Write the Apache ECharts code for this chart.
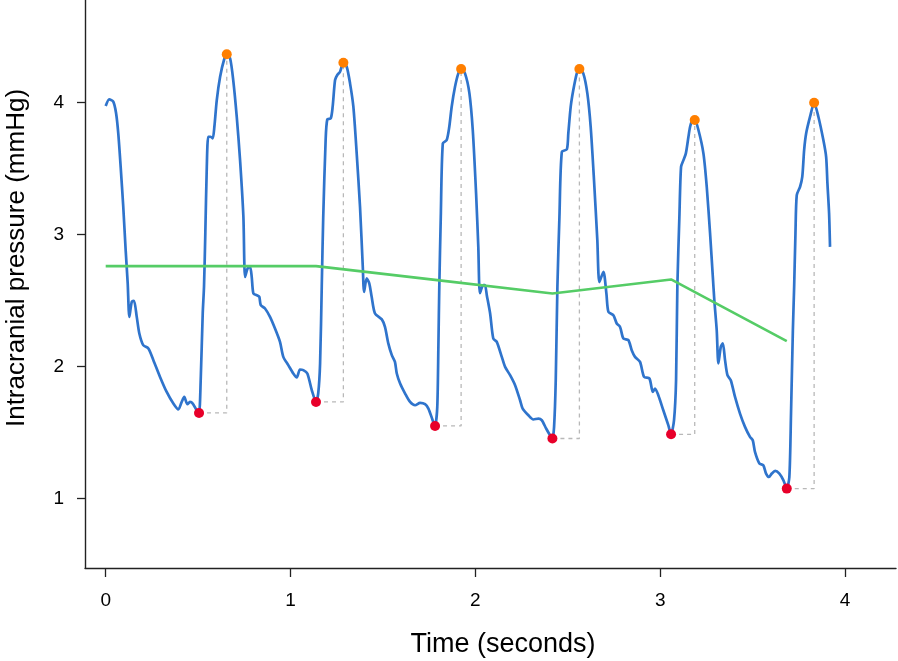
<!DOCTYPE html>
<html>
<head>
<meta charset="utf-8">
<script src="https://cdn.jsdelivr.net/npm/echarts@6/dist/echarts.min.js"></script>
<style>
html,body{margin:0;padding:0;background:#fff;}
#chart{width:898px;height:661px;}
</style>
</head>
<body>
<div id="chart"></div>
<script>
// Blue ICP waveform: time (s) and pressure (mmHg)
var waveTime = [0.000,0.019,0.041,0.056,0.068,0.081,0.095,0.108,0.119,0.128,0.141,0.153,0.168,0.182,0.203,0.231,0.258,0.294,0.330,0.366,0.393,0.411,0.425,0.442,0.456,0.471,0.492,0.505,
0.514,0.525,0.532,0.539,0.547,0.555,0.568,0.579,0.588,0.601,0.619,0.640,0.655,0.673,0.690,0.709,0.727,0.745,0.754,0.768,0.781,0.790,0.799,0.817,0.831,0.839,0.862,0.889,0.916,0.943,0.961,0.988,1.015,1.034,1.051,1.069,1.091,1.115,1.138,
1.150,1.160,1.169,1.177,1.190,1.199,1.218,1.228,1.241,1.253,1.268,1.286,1.304,1.322,1.340,1.358,1.376,1.391,1.398,1.412,1.426,1.439,1.457,1.494,1.511,1.529,1.548,1.565,1.575,1.593,1.620,1.647,1.674,1.701,1.728,1.746,1.769,1.782,
1.794,1.800,1.805,1.813,1.824,1.845,1.859,1.872,1.890,1.908,1.923,1.944,1.968,1.986,2.004,2.016,2.025,2.043,2.052,2.062,2.080,2.097,2.116,2.143,2.161,2.188,2.215,2.242,2.256,2.287,2.314,2.341,2.359,2.383,2.404,2.417,
2.426,2.435,2.444,2.455,2.468,2.495,2.503,2.516,2.530,2.549,2.563,2.584,2.606,2.624,2.642,2.660,2.671,2.693,2.709,2.720,2.747,2.765,2.783,2.801,2.828,2.846,2.864,2.891,2.913,2.942,2.960,2.972,2.990,3.017,3.044,3.059,
3.075,3.086,3.093,3.104,3.113,3.126,3.139,3.153,3.162,3.174,3.187,3.207,3.234,3.252,3.270,3.285,3.293,3.306,3.315,3.328,3.339,3.351,3.364,3.382,3.405,3.432,3.459,3.486,3.501,3.513,3.537,3.558,3.573,3.589,3.604,3.622,3.645,3.667,3.685,
3.699,3.708,3.718,3.725,3.732,3.739,3.757,3.769,3.779,3.790,3.811,3.833,3.856,3.883,3.898,3.905,3.914,3.919];
var wavePressure = [3.975,4.026,4.008,3.922,3.768,3.514,3.211,2.882,2.632,2.376,2.490,2.498,2.376,2.250,2.162,2.137,2.048,1.921,1.807,1.719,1.674,1.731,1.769,1.714,1.731,1.719,1.668,1.648,
1.896,2.404,2.609,3.011,3.514,3.742,3.742,3.730,3.818,4.020,4.197,4.324,4.367,4.337,4.172,3.894,3.565,3.135,2.680,2.744,2.756,2.680,2.554,2.541,2.528,2.465,2.440,2.376,2.288,2.187,2.073,2.010,1.947,1.917,1.977,1.972,1.947,1.820,1.731,
1.797,2.025,2.609,3.135,3.717,3.874,3.882,3.970,4.172,4.210,4.235,4.303,4.273,4.147,3.970,3.616,3.211,2.756,2.566,2.668,2.630,2.528,2.402,2.357,2.300,2.175,2.086,2.035,1.947,1.871,1.795,1.731,1.706,1.724,1.714,1.681,1.593,1.549,
1.693,2.149,2.609,3.135,3.692,3.717,3.818,3.970,4.121,4.223,4.256,4.223,4.071,3.793,3.313,2.907,2.556,2.617,2.617,2.541,2.402,2.212,2.187,2.073,1.997,1.934,1.858,1.744,1.681,1.630,1.598,1.605,1.593,1.530,1.479,1.454,
1.542,1.896,2.609,3.135,3.628,3.646,3.768,3.970,4.096,4.223,4.256,4.223,4.071,3.818,3.414,2.958,2.640,2.718,2.554,2.414,2.389,2.326,2.300,2.212,2.200,2.124,2.073,2.035,1.921,1.909,1.807,1.833,1.782,1.668,1.555,1.486,
1.593,1.896,2.609,3.135,3.514,3.565,3.616,3.742,3.818,3.863,3.869,3.793,3.616,3.363,3.009,2.680,2.503,2.275,2.023,2.149,2.175,2.048,1.934,1.896,1.769,1.643,1.542,1.466,1.441,1.352,1.264,1.251,1.188,1.162,1.188,1.208,1.188,1.137,1.074,
1.162,1.643,2.275,2.609,3.009,3.300,3.363,3.439,3.641,3.768,3.894,4.000,3.894,3.717,3.590,3.388,3.161,2.907];

// Beat peaks (orange) and troughs (red)
var peakTime = [0.655,1.286,1.923,2.563,3.187,3.833];
var peakPressure = [4.367,4.303,4.256,4.256,3.869,4.000];
var troughTime = [0.505,1.138,1.782,2.417,3.059,3.685];
var troughPressure = [1.648,1.731,1.549,1.454,1.486,1.074];

// Green line
var greenTime = [0,0.505,1.138,1.782,2.417,3.059,3.685];
var greenPressure = [2.761,2.761,2.761,2.657,2.554,2.660,2.192];

// Tick labels
var xTicks = [0,1,2,3,4];
var yTicks = [1,2,3,4];

function zip(a,b){return a.map(function(v,i){return [v,b[i]];});}

var series = [];
for (var i = 0; i < peakTime.length; i++) {
  series.push({
    type:'line', silent:true, symbol:'none', z:1,
    lineStyle:{color:'#b8b8b8', width:1.3, type:[4,4]},
    data:[[troughTime[i],troughPressure[i]],[peakTime[i],troughPressure[i]],[peakTime[i],peakPressure[i]]]
  });
}
series.push({
  type:'line', symbol:'none', z:3, smooth:0.25,
  lineStyle:{color:'#2f74cc', width:2.7},
  data: zip(waveTime, wavePressure)
});
series.push({
  type:'line', symbol:'none', z:4,
  lineStyle:{color:'#55cc66', width:2.6},
  data: zip(greenTime, greenPressure)
});
series.push({
  type:'scatter', symbolSize:10, z:5,
  itemStyle:{color:'#ff7f00', opacity:1},
  data: zip(peakTime, peakPressure)
});
series.push({
  type:'scatter', symbolSize:10, z:5,
  itemStyle:{color:'#e8002a', opacity:1},
  data: zip(troughTime, troughPressure)
});

var chart = echarts.init(document.getElementById('chart'));
chart.setOption({
  animation:false,
  backgroundColor:'#fff',
  grid:{left:85, right:2, top:0, bottom:93, containLabel:false},
  xAxis:{
    type:'value', min:-0.112, max:4.276,
    splitLine:{show:false},
    axisLine:{show:true, onZero:false, lineStyle:{color:'#222', width:1.4}},
    axisTick:{show:true, inside:false, length:9, customValues:xTicks, lineStyle:{color:'#222', width:1.3}},
    axisLabel:{show:true, customValues:xTicks, margin:23, fontSize:19, color:'#000', fontFamily:'Liberation Sans'}
  },
  yAxis:{
    type:'value', min:0.472, max:4.779,
    splitLine:{show:false},
    axisLine:{show:true, onZero:false, lineStyle:{color:'#222', width:1.4}},
    axisTick:{show:true, inside:false, length:8, customValues:yTicks, lineStyle:{color:'#222', width:1.3}},
    axisLabel:{show:true, customValues:yTicks, margin:21, fontSize:19, color:'#000', fontFamily:'Liberation Sans'}
  },
  graphic:[
    {type:'text', x:503, y:645, style:{text:'Time (seconds)', fontSize:27, fontFamily:'Liberation Sans', fill:'#000', align:'center', verticalAlign:'middle'}},
    {type:'text', x:17, y:258, rotation:Math.PI/2, style:{text:'Intracranial pressure (mmHg)', fontSize:26, fontFamily:'Liberation Sans', fill:'#000', align:'center', verticalAlign:'middle'}}
  ],
  series: series
});
</script>
</body>
</html>
